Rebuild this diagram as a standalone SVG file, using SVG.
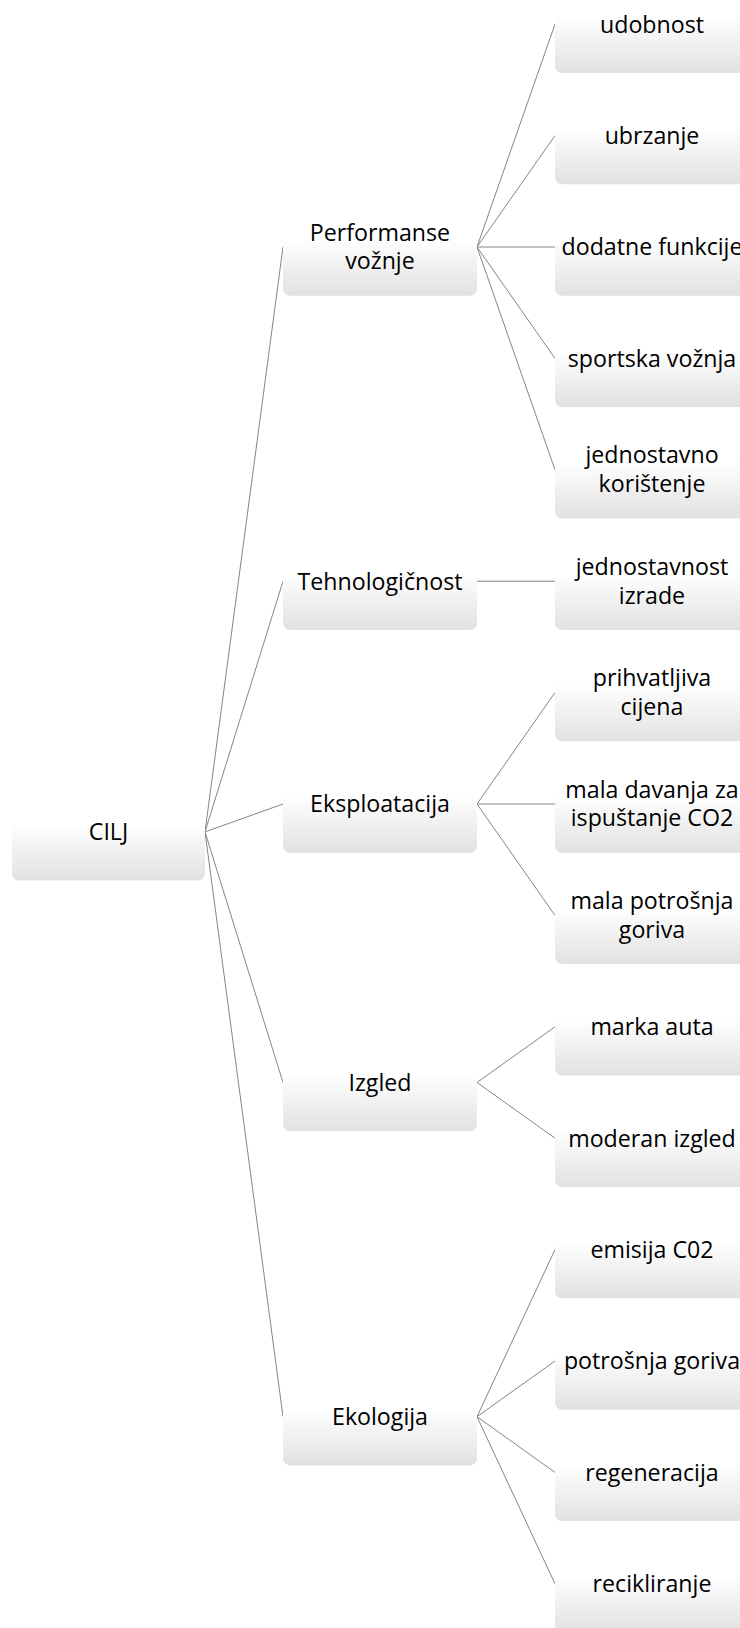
<svg xmlns="http://www.w3.org/2000/svg" width="740" height="1628" viewBox="0 0 740 1628">
<defs>
<linearGradient id="g" x1="0" y1="0" x2="0" y2="1">
<stop offset="0" stop-color="#ffffff"/>
<stop offset="0.42" stop-color="#ffffff"/>
<stop offset="1" stop-color="#e1e1e1"/>
</linearGradient>
</defs>
<style>
.box{fill:url(#g);stroke:none}
.t{font-family:"Open Sans","Liberation Sans",sans-serif;font-size:23.2px;fill:#000;text-anchor:middle}
.c line{stroke:#858585;stroke-width:1}
</style>
<rect width="740" height="1628" fill="#ffffff"/>
<g class="c" id="connectors">
<line x1="205" y1="831.9" x2="283" y2="247"/>
<line x1="205" y1="831.9" x2="283" y2="581.2"/>
<line x1="205" y1="831.9" x2="283" y2="804"/>
<line x1="205" y1="831.9" x2="283" y2="1082.5"/>
<line x1="205" y1="831.9" x2="283" y2="1416.7"/>
<line x1="477" y1="247" x2="555" y2="24.2"/>
<line x1="477" y1="247" x2="555" y2="135.6"/>
<line x1="477" y1="247" x2="555" y2="247"/>
<line x1="477" y1="247" x2="555" y2="358.4"/>
<line x1="477" y1="247" x2="555" y2="469.8"/>
<line x1="477" y1="581.2" x2="555" y2="581.2"/>
<line x1="477" y1="804" x2="555" y2="692.6"/>
<line x1="477" y1="804" x2="555" y2="804"/>
<line x1="477" y1="804" x2="555" y2="915.4"/>
<line x1="477" y1="1082.5" x2="555" y2="1026.8"/>
<line x1="477" y1="1082.5" x2="555" y2="1138.2"/>
<line x1="477" y1="1416.7" x2="555" y2="1249.6"/>
<line x1="477" y1="1416.7" x2="555" y2="1361"/>
<line x1="477" y1="1416.7" x2="555" y2="1472.4"/>
<line x1="477" y1="1416.7" x2="555" y2="1583.8"/>
</g>
<g id="cilj"><rect class="box" x="12" y="783.2" width="193" height="97.4" rx="7"/><text class="t" x="108.5" y="840.3">CILJ</text></g>
<g id="performanse"><rect class="box" x="283" y="198.3" width="194" height="97.4" rx="7"/><text class="t" x="380" y="240.5">Performanse</text><text class="t" x="380" y="269.3">vožnje</text></g>
<g id="tehnologicnost"><rect class="box" x="283" y="532.5" width="194" height="97.4" rx="7"/><text class="t" x="380" y="589.5">Tehnologičnost</text></g>
<g id="eksploatacija"><rect class="box" x="283" y="755.3" width="194" height="97.4" rx="7"/><text class="t" x="380" y="812.3">Eksploatacija</text></g>
<g id="izgled"><rect class="box" x="283" y="1033.8" width="194" height="97.4" rx="7"/><text class="t" x="380" y="1090.8">Izgled</text></g>
<g id="ekologija"><rect class="box" x="283" y="1368" width="194" height="97.4" rx="7"/><text class="t" x="380" y="1425">Ekologija</text></g>
<g id="udobnost"><rect class="box" x="555" y="-24.5" width="194" height="97.4" rx="7"/><text class="t" x="652" y="32.5">udobnost</text></g>
<g id="ubrzanje"><rect class="box" x="555" y="86.9" width="194" height="97.4" rx="7"/><text class="t" x="652" y="143.9">ubrzanje</text></g>
<g id="dodatne"><rect class="box" x="555" y="198.3" width="194" height="97.4" rx="7"/><text class="t" x="652" y="255.3">dodatne funkcije</text></g>
<g id="sportska"><rect class="box" x="555" y="309.7" width="194" height="97.4" rx="7"/><text class="t" x="652" y="366.7">sportska vožnja</text></g>
<g id="jednostavno"><rect class="box" x="555" y="421.1" width="194" height="97.4" rx="7"/><text class="t" x="652" y="463.3">jednostavno</text><text class="t" x="652" y="492.1">korištenje</text></g>
<g id="jednostavnost"><rect class="box" x="555" y="532.5" width="194" height="97.4" rx="7"/><text class="t" x="652" y="574.7">jednostavnost</text><text class="t" x="652" y="603.5">izrade</text></g>
<g id="prihvatljiva"><rect class="box" x="555" y="643.9" width="194" height="97.4" rx="7"/><text class="t" x="652" y="686.1">prihvatljiva</text><text class="t" x="652" y="714.9">cijena</text></g>
<g id="davanja"><rect class="box" x="555" y="755.3" width="194" height="97.4" rx="7"/><text class="t" x="652" y="797.5">mala davanja za</text><text class="t" x="652" y="826.3">ispuštanje CO2</text></g>
<g id="potrosnja1"><rect class="box" x="555" y="866.7" width="194" height="97.4" rx="7"/><text class="t" x="652" y="908.9">mala potrošnja</text><text class="t" x="652" y="937.7">goriva</text></g>
<g id="marka"><rect class="box" x="555" y="978.1" width="194" height="97.4" rx="7"/><text class="t" x="652" y="1035.1">marka auta</text></g>
<g id="moderan"><rect class="box" x="555" y="1089.5" width="194" height="97.4" rx="7"/><text class="t" x="652" y="1146.5">moderan izgled</text></g>
<g id="emisija"><rect class="box" x="555" y="1200.9" width="194" height="97.4" rx="7"/><text class="t" x="652" y="1257.9">emisija C02</text></g>
<g id="potrosnja2"><rect class="box" x="555" y="1312.3" width="194" height="97.4" rx="7"/><text class="t" x="652" y="1369.3">potrošnja goriva</text></g>
<g id="regeneracija"><rect class="box" x="555" y="1423.7" width="194" height="97.4" rx="7"/><text class="t" x="652" y="1480.7">regeneracija</text></g>
<g id="recikliranje"><rect class="box" x="555" y="1535.1" width="194" height="97.4" rx="7"/><text class="t" x="652" y="1592.1">recikliranje</text></g>
</svg>
